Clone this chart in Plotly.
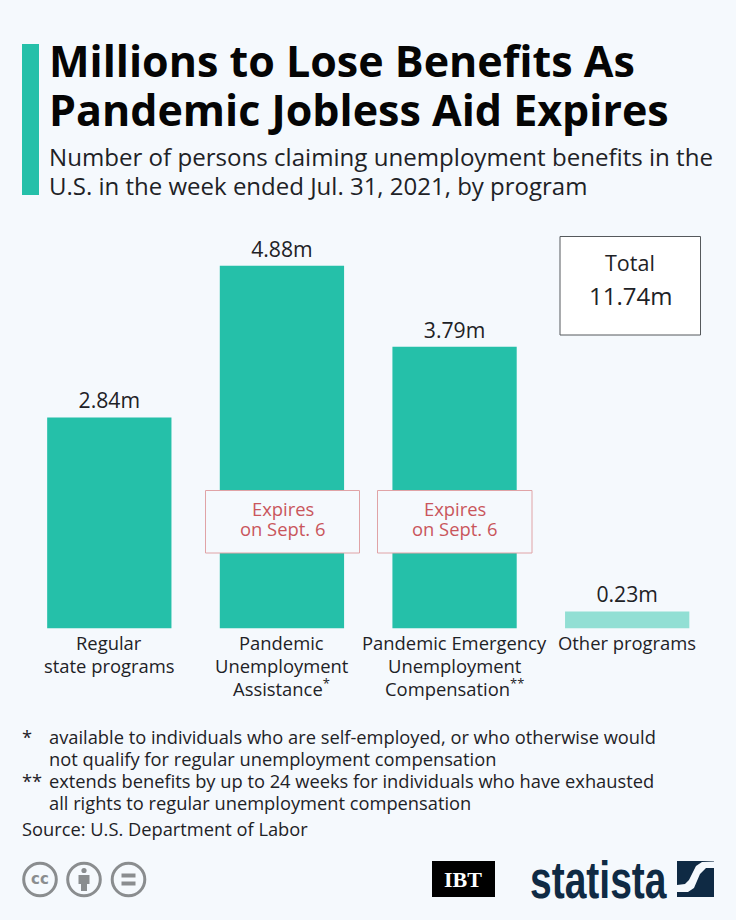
import plotly.graph_objects as go

categories = [["Regular", "state programs"],
              ["Pandemic", "Unemployment", "Assistance<sup>*</sup>"],
              ["Pandemic Emergency", "Unemployment", "Compensation<sup>**</sup>"],
              ["Other programs"]]
values = [2.84, 4.88, 3.79, 0.23]
value_labels = ["2.84m", "4.88m", "3.79m", "0.23m"]
bar_colors = ["#25c0a9", "#25c0a9", "#25c0a9", "#92dfd4"]
W, H = 736, 920
FONT = "Open Sans"
BG = "#f5f9fd"
DARK = "#1e2226"
NAVY = "#0f2a44"
GREY = "#8a8d8f"
RED = "#c9565c"

def X(p): return p / W
def Y(p): return 1 - p / H

ann = []
def text(x, y, s, size, color=DARK, anchor="left", family=FONT):
    ann.append(dict(x=X(x), y=Y(y), xref="paper", yref="paper", text=s, showarrow=False,
                    xanchor=anchor, yanchor="middle", align=anchor if anchor != "middle" else "center",
                    borderpad=0, borderwidth=0,
                    font=dict(size=size, color=color, family=family)))

shapes = []
def rect(x0, y0, x1, y1, fill="rgba(0,0,0,0)", line=None, lw=0):
    shapes.append(dict(type="rect", xref="paper", yref="paper", x0=X(x0), x1=X(x1), y0=Y(y0), y1=Y(y1),
                       fillcolor=fill, line=dict(color=line or "rgba(0,0,0,0)", width=lw), layer="above"))
def circle(cx, cy, r, fill="rgba(0,0,0,0)", line=GREY, lw=3):
    shapes.append(dict(type="circle", xref="paper", yref="paper", x0=X(cx-r), x1=X(cx+r), y0=Y(cy-r), y1=Y(cy+r),
                       fillcolor=fill, line=dict(color=line, width=lw), layer="above"))
def poly(pts, fill):
    d = "M" + " L".join(f"{X(a):.5f},{Y(b):.5f}" for a, b in pts) + " Z"
    shapes.append(dict(type="path", xref="paper", yref="paper", path=d, fillcolor=fill,
                       line=dict(width=0), layer="above"))

# header
rect(22, 44, 39, 195, fill="#25c0a9")
text(49, 60.5, "<b>Millions to Lose Benefits As</b>", 43, "#050505")
text(49, 110, "<b>Pandemic Jobless Aid Expires</b>", 43, "#050505")
text(49, 156.5, "Number of persons claiming unemployment benefits in the", 24.1)
text(49, 185.5, "U.S. in the week ended Jul. 31, 2021, by program", 24.0)

# total box
rect(560, 236.5, 700.5, 335, fill="#ffffff", line="#55595c", lw=1)
text(630, 263, "Total", 21.5, anchor="center")
text(630, 295.5, "11.74m", 24, anchor="center")

# expires boxes
for x0, x1 in ((205.5, 359.5), (377.5, 532)):
    cx = (x0 + x1) / 2
    rect(x0, 490.5, x1, 553, fill=BG, line="#e0a3a6", lw=1)
    text(cx, 508.5, "Expires", 18.4, RED, "center")
    text(cx, 528.5, "on Sept. 6", 18.4, RED, "center")

# footnotes
foot = [(22, 736, "*"), (49, 736, "available to individuals who are self-employed, or who otherwise would"),
        (49, 758, "not qualify for regular unemployment compensation"),
        (22, 780, "**"), (49, 780, "extends benefits by up to 24 weeks for individuals who have exhausted"),
        (49, 802, "all rights to regular unemployment compensation"),
        (22, 828, "Source: U.S. Department of Labor")]
for x, y, s in foot:
    text(x, y, s, 18.3)

# cc icons
for cx in (40, 84, 128.5):
    circle(cx, 879.5, 16.3)
text(40, 879, "<b>cc</b>", 15, GREY, "center", "DejaVu Sans")
circle(84, 870.5, 2.6, fill=GREY, lw=0)
poly([(78.5, 875), (89.5, 875), (89.5, 884), (87, 884), (87, 891), (81, 891), (81, 884), (78.5, 884)], GREY)
rect(121.5, 873.5, 135.5, 877.5, fill=GREY)
rect(121.5, 881.5, 135.5, 885.5, fill=GREY)

# IBT logo
rect(432, 861, 495, 897, fill="#000000")
text(463.5, 879, "<b>IBT</b>", 22, "#ffffff", "center", "Liberation Serif")

# statista logo
text(529.5, 879.5, "<b>statista</b>", 39, NAVY, "left", "Liberation Sans")
rect(677, 861, 714, 897, fill=NAVY)
poly([(677, 892), (688, 892), (694, 888), (700, 874), (706, 868), (714, 868), (714, 861.5), (702, 862),
      (696, 866), (689, 880), (685, 884), (677, 885)], BG)

# category labels, one annotation per line for the reference's tight leading
for i, lines in enumerate(categories):
    for j, line in enumerate(lines):
        ann.append(dict(x=i, y=Y(642.5 + 22.6 * j), xref="x", yref="paper", text=line, showarrow=False,
                        xanchor="center", yanchor="middle", align="center",
                        font=dict(size=18.4, color=DARK, family=FONT)))

fig = go.Figure(go.Bar(
    x=list(range(len(values))), y=values, marker=dict(color=bar_colors, line=dict(width=0)),
    text=value_labels, textposition="outside", cliponaxis=False,
    textfont=dict(size=21.2, color=DARK, family=FONT), width=0.72, hoverinfo="skip"))

fig.update_layout(
    width=W, height=H, autosize=False, margin=dict(l=0, r=0, t=0, b=0, pad=0),
    paper_bgcolor=BG, plot_bgcolor=BG, showlegend=False,
    font=dict(family=FONT, color=DARK),
    xaxis=dict(domain=[23 / W, 713.5 / W], range=[-0.5, 3.5], showticklabels=False, ticks="",
               showgrid=False, zeroline=False, showline=False),
    yaxis=dict(domain=[1 - 628.5 / H, 1 - 242 / H], range=[0, 5.2], visible=False),
    annotations=ann, shapes=shapes)

post = """
document.documentElement.style.margin='0';
document.body.style.margin='0';
document.body.style.overflow='hidden';
document.body.style.background='%s';
document.querySelectorAll('.annotation-text').forEach(function(t){
  if(t.textContent==='statista'){
    t.style.transformBox='fill-box';
    t.style.transformOrigin='center';
    t.style.transform='scaleY(1.35)';
  }
});
""" % BG
fig.write_html("out.html", post_script=post, config=dict(displayModeBar=False, staticPlot=True))
